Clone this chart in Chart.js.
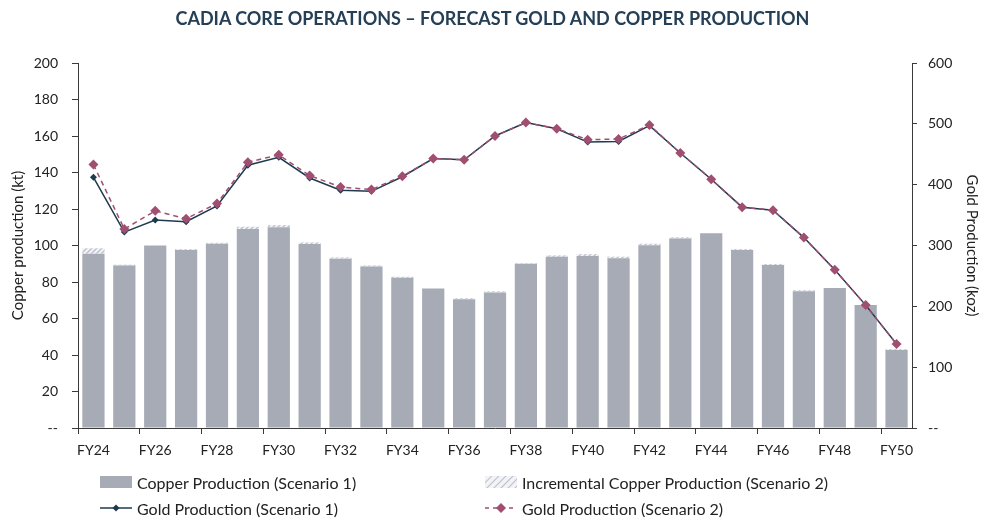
<!DOCTYPE html>
<html><head><meta charset="utf-8">
<script src="https://cdn.jsdelivr.net/npm/chart.js@4.4.1/dist/chart.umd.min.js"></script>
<style>
html,body{margin:0;padding:0;background:#fff;}
#wrap{position:relative;width:985px;height:520px;overflow:hidden;font-family:Lato, sans-serif;}
#title{position:absolute;left:0;top:7px;width:985px;text-align:center;font-weight:bold;font-size:18px;color:#243f56;}
canvas{position:absolute;left:0;top:0;}
.lg{position:absolute;font-size:16px;color:#222;display:flex;align-items:center;white-space:nowrap;height:16px;}
.lg svg{margin-right:5px;}
</style></head><body>
<div id="wrap">
<canvas id="c" width="985" height="520"></canvas>
<div id="title">CADIA CORE OPERATIONS – FORECAST GOLD AND COPPER PRODUCTION</div>
<div class="lg" style="left:100px;top:474px"><svg width="32" height="14"><rect x="0" y="1" width="32" height="12" fill="#a6abb6"/></svg>Copper Production (Scenario 1)</div>
<div class="lg" style="left:485px;top:474px"><svg width="32" height="14"><defs><pattern id="h" width="5" height="5" patternUnits="userSpaceOnUse" patternTransform="rotate(45)"><rect width="5" height="5" fill="#f2f3f6"/><line x1="0" y1="0" x2="0" y2="5" stroke="#bcc0cc" stroke-width="2"/></pattern></defs><rect x="0" y="1" width="32" height="12" fill="url(#h)"/></svg>Incremental Copper Production (Scenario 2)</div>
<div class="lg" style="left:100px;top:500px"><svg width="32" height="14"><line x1="0" y1="7" x2="32" y2="7" stroke="#1e3a4f" stroke-width="1.5"/><polygon points="16,3.5 19.5,7 16,10.5 12.5,7" fill="#1e3a4f"/></svg>Gold Production (Scenario 1)</div>
<div class="lg" style="left:485px;top:500px"><svg width="32" height="14"><line x1="0" y1="7" x2="32" y2="7" stroke="#a04f70" stroke-width="1.5" stroke-dasharray="4,4"/><polygon points="16,2 21,7 16,12 11,7" fill="#a04f70"/></svg>Gold Production (Scenario 2)</div>
</div>
<script>
const categories = ['FY24','FY25','FY26','FY27','FY28','FY29','FY30','FY31','FY32','FY33','FY34','FY35','FY36','FY37','FY38','FY39','FY40','FY41','FY42','FY43','FY44','FY45','FY46','FY47','FY48','FY49','FY50'];
const copperScenario1 = [95.5, 89, 100, 97.5, 101, 109, 110, 100.8, 92.8, 88.5, 82.3, 76.5, 70.5, 74.3, 90, 93.8, 94.2, 93, 100.2, 103.8, 106.7, 97.6, 89.3, 75, 76.7, 67.4, 42.8];
const copperIncrementalScenario2 = [3, 0.5, 0, 0.5, 0.5, 1.3, 1.2, 0.9, 0.7, 0.6, 0.6, 0, 0.6, 0.6, 0.3, 0.8, 1.1, 0.9, 0.8, 0.7, 0, 0.5, 0.6, 0.5, 0, 0, 0.5];
const goldScenario1 = [412, 322, 342, 339, 365, 432, 445, 411, 391, 389, 413, 443, 441, 480, 502, 492, 470, 471, 497, 452, 409, 363, 358, 313, 260, 202, 138];
const goldScenario2 = [433, 327, 357, 344, 369, 437, 449, 415, 396, 392, 414, 443, 441, 480, 502, 492, 474, 475, 498, 452, 409, 363, 358, 313, 260, 202, 138];
const copperTicks = [0,20,40,60,80,100,120,140,160,180,200];
const goldTicks = [0,100,200,300,400,500,600];

function hatch(){
  const c=document.createElement('canvas');c.width=5;c.height=5;
  const g=c.getContext('2d');
  g.fillStyle='#f2f3f6';g.fillRect(0,0,5,5);
  g.strokeStyle='#bcc0cc';g.lineWidth=1.3;
  g.beginPath();
  g.moveTo(0,5);g.lineTo(5,0);
  g.moveTo(-2.5,2.5);g.lineTo(2.5,-2.5);
  g.moveTo(2.5,7.5);g.lineTo(7.5,2.5);
  g.stroke();
  return g.createPattern(c,'repeat');
}
const FONT = {family:'Lato, sans-serif', size:14};
const axisColor = '#3a3a3a';

new Chart(document.getElementById('c'), {
  data: {
    labels: categories,
    datasets: [
      {type:'line', label:'Gold Production (Scenario 2)', data: goldScenario2, yAxisID:'y1', order:0,
       borderColor:'#a04f70', backgroundColor:'#a04f70', borderWidth:1.5, borderDash:[5,4],
       pointStyle:'rectRot', pointRadius:5, pointBorderWidth:0, tension:0},
      {type:'line', label:'Gold Production (Scenario 1)', data: goldScenario1, yAxisID:'y1', order:1,
       borderColor:'#1e3a4f', backgroundColor:'#1e3a4f', borderWidth:1.5,
       pointStyle:'rectRot', pointRadius:3.5, pointBorderWidth:0, tension:0},
      {type:'bar', label:'Copper Production (Scenario 1)', data: copperScenario1, yAxisID:'y', order:2,
       backgroundColor:'#a6abb6', barPercentage:0.72, categoryPercentage:1, stack:'cu'},
      {type:'bar', label:'Incremental Copper Production (Scenario 2)', data: copperIncrementalScenario2, yAxisID:'y', order:3,
       backgroundColor: hatch(), barPercentage:0.72, categoryPercentage:1, stack:'cu'}
    ]
  },
  options: {
    responsive:false, animation:false, devicePixelRatio:1,
    layout:{padding:{top:63,bottom:52,left:0,right:0}},
    plugins:{legend:{display:false}, tooltip:{enabled:false}, title:{display:false}},
    scales:{
      x:{
        stacked:true, offset:true,
        grid:{display:true, drawOnChartArea:false, offset:true, tickLength:6,
              color:(ctx)=> (ctx.index % 2 === 0 ? axisColor : 'rgba(0,0,0,0)')},
        border:{display:true, color:axisColor, width:1},
        ticks:{autoSkip:false, maxRotation:0, padding:8, color:'#222', font:FONT,
               callback:function(v,i){return i%2===0 ? this.getLabelForValue(v) : '';}},
        afterFit:(s)=>{s.height=40;}
      },
      y:{
        stacked:true, position:'left', min:0, max:200,
        afterBuildTicks:(s)=>{s.ticks = copperTicks.map(v=>({value:v}));},
        grid:{display:true, drawOnChartArea:false, tickLength:6, color:axisColor},
        border:{display:true, color:axisColor, width:1},
        ticks:{padding:14, color:'#222', font:FONT, callback:(v)=> v===0 ? '--' : v},
        title:{display:true, text:'Copper production (kt)', color:'#222', font:{family:'Lato, sans-serif', size:15}, padding:{top:9,bottom:0}},
        afterFit:(s)=>{s.width=78;}
      },
      y1:{
        position:'right', min:0, max:600,
        afterBuildTicks:(s)=>{s.ticks = goldTicks.map(v=>({value:v}));},
        grid:{display:true, drawOnChartArea:false, tickLength:5, color:axisColor},
        border:{display:true, color:axisColor, width:1},
        ticks:{padding:11, color:'#222', font:FONT, callback:(v)=> v===0 ? '--' : v},
        title:{display:true, text:'Gold Production (koz)', color:'#222', font:{family:'Lato, sans-serif', size:15}, padding:{top:4,bottom:0}},
        afterFit:(s)=>{s.width=73;}
      }
    }
  }
});
</script>
</body></html>
